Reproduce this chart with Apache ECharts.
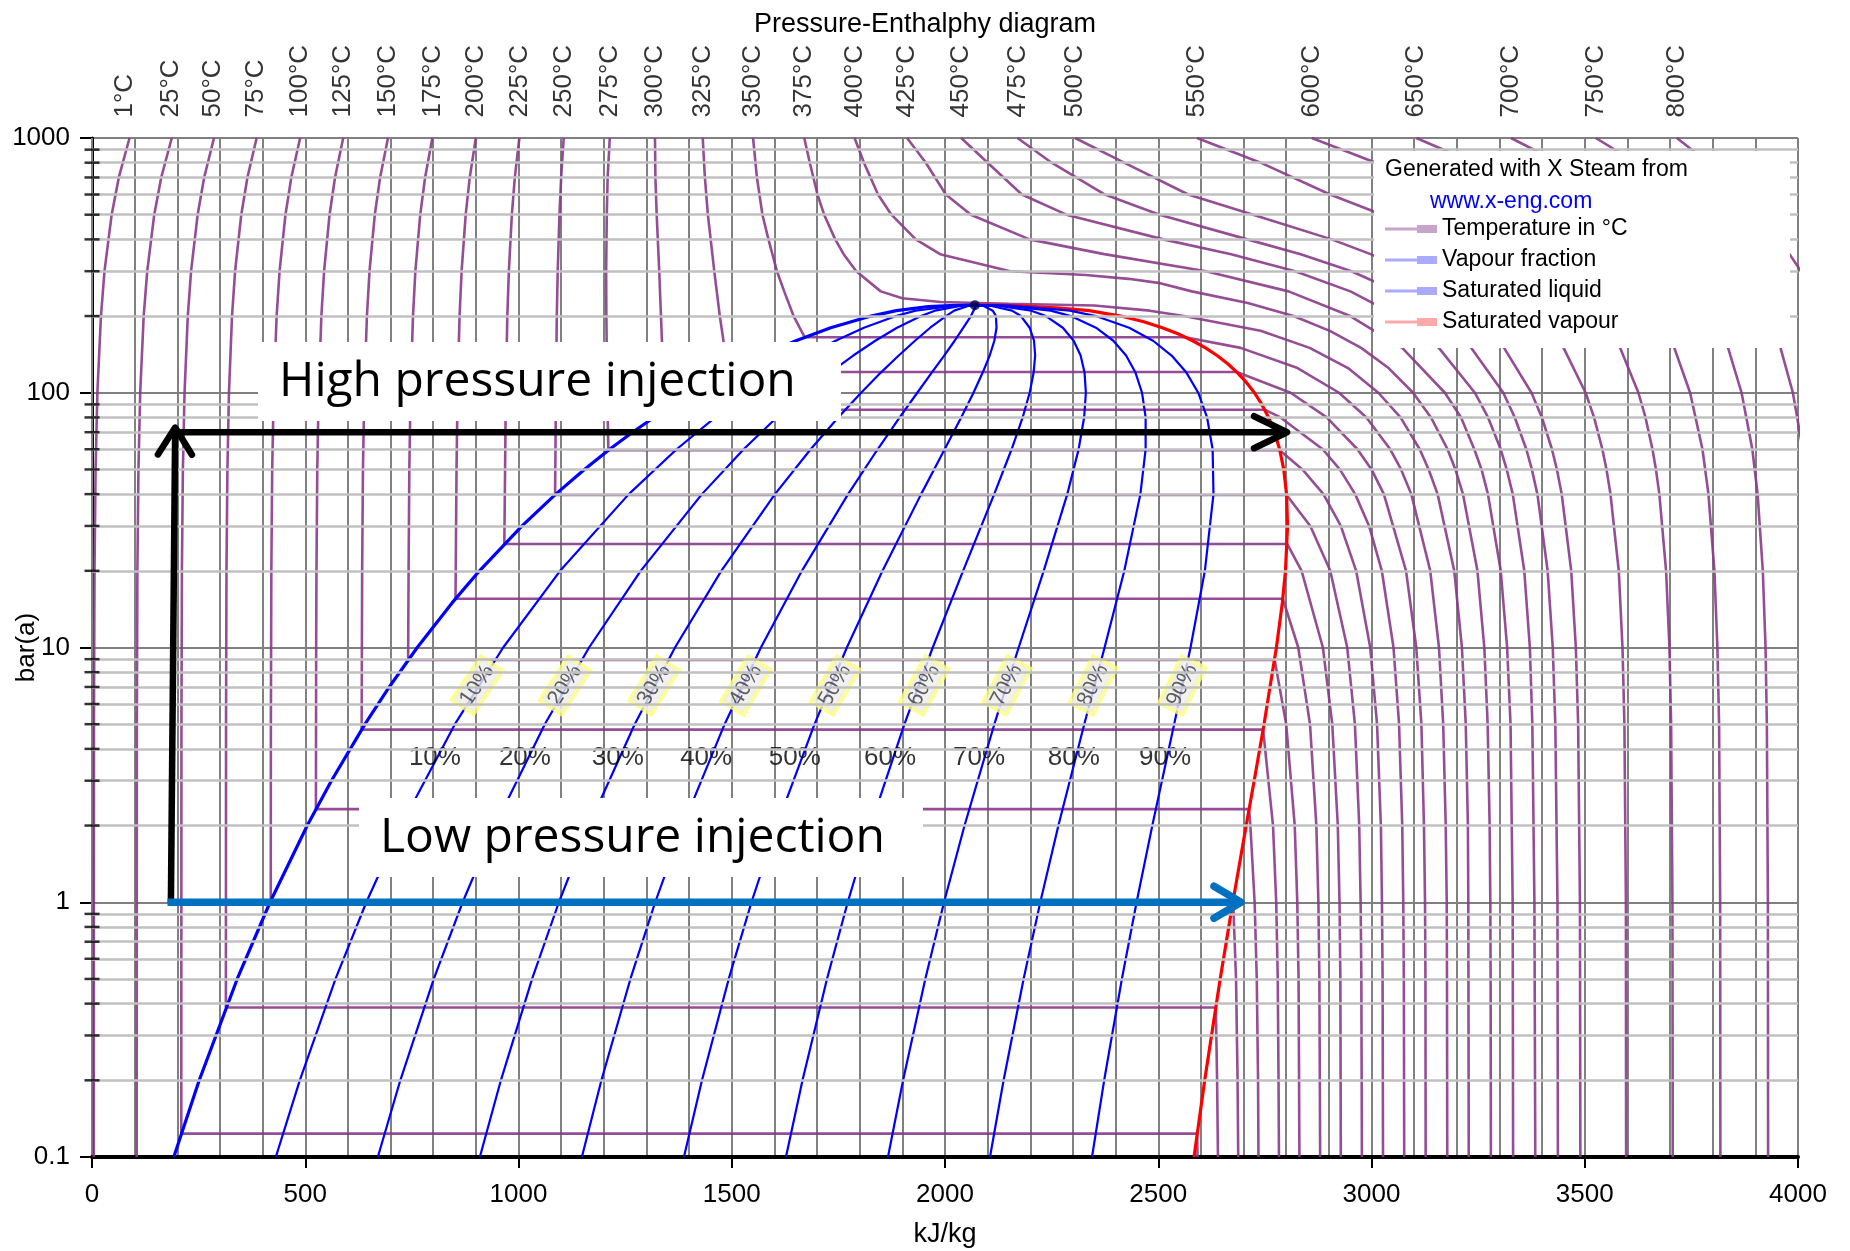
<!DOCTYPE html>
<html><head><meta charset="utf-8">
<script src="https://cdn.jsdelivr.net/npm/echarts@6/dist/echarts.min.js"></script>
<style>html,body{margin:0;padding:0;background:#fff}#c{width:1850px;height:1251px}</style>
</head><body><div id="c"></div>
<script>
// ---------- tick labels ----------
const xTickLabels = ['0','500','1000','1500','2000','2500','3000','3500','4000'];
const yTicks = [0.1, 1, 10, 100, 1000];
const yTickText = ['0.1', '1', '10', '100', '1000'];
const minorGridP = [0.2,0.3,0.4,0.5,0.6,0.7,0.8,0.9,2,3,4,5,6,7,8,9,20,30,40,50,60,70,80,90,200,300,400,500,600,700,800,900];

// ---------- temperature labels along the top ----------
const tempLabels = ['1°C','25°C','50°C','75°C','100°C','125°C','150°C','175°C','200°C','225°C','250°C','275°C','300°C','325°C','350°C','375°C','400°C','425°C','450°C','475°C','500°C','550°C','600°C','650°C','700°C','750°C','800°C'];
const tempLabelH = [78,185,283,384,488,589,694,798,900,1002,1106,1214,1320,1432,1550,1670,1788,1911,2038,2170,2305,2591,2860,3105,3327,3526,3716];

// ---------- isotherms [h kJ/kg, p bar] ----------
const T001 = [[88,1000],[62.9,700],[46.1,500],[29.3,300],[21,200],[12.6,100],[8.4,50],[5.9,20],[4.6,5],[4.2,0.1]];
const T025 = [[187,1000],[162.3,700],[145.9,500],[129.5,300],[121.2,200],[113,100],[108.9,50],[106.4,20],[105.2,5],[104.8,0.1]];
const T050 = [[286,1000],[263,700],[247.7,500],[232.3,300],[224.6,200],[217,100],[213.1,50],[210.8,20],[209.7,5],[209.3,0.1235],[2591.3,0.1235],[2592,0.1]];
const T075 = [[386,1000],[364.4,700],[350,500],[335.5,300],[328.3,200],[321.1,100],[317.5,50],[315.3,20],[314.3,5],[313.9,0.386],[2635,0.386],[2638,0.2],[2640,0.1]];
const T100 = [[488,1000],[467.3,700],[453.6,500],[439.8,300],[432.9,200],[426,100],[422.5,50],[420.5,20],[419.4,5],[419.1,1.014],[2675.6,1.014],[2682.4,0.5],[2686,0.2],[2687.5,0.1]];
const T125 = [[589,1000],[569.8,700],[557,500],[544.2,300],[537.8,200],[531.4,100],[528.2,50],[526.3,20],[525.6,10],[525,2.32],[2713,2.32],[2716,2],[2726,1],[2731,0.5],[2734,0.2],[2735,0.1]];
const T150 = [[694,1000],[675.5,700],[663.1,500],[650.7,300],[644.6,200],[638.4,100],[635.3,50],[633.4,20],[632.2,4.76],[2745.9,4.76],[2769.1,2],[2776.6,1],[2780.2,0.5],[2782,0.2],[2783,0.1]];
const T175 = [[798,1000],[781,700],[769.6,500],[758.2,300],[752.6,200],[746.9,100],[744,50],[742.3,20],[741.2,8.93],[2773,8.93],[2800,5],[2820,2],[2826,1],[2829,0.5],[2831,0.1]];
const T200 = [[900,1000],[885.7,700],[876.2,500],[866.6,300],[861.8,200],[857.1,100],[854.7,50],[852.3,15.54],[2792,15.54],[2828.3,10],[2855.8,5],[2870.7,2],[2875.5,1],[2877.8,0.5],[2879.6,0.1]];
const T225 = [[1002,1000],[991.4,700],[984.4,500],[977.4,300],[973.8,200],[970.3,100],[966.8,25.5],[2802.2,25.5],[2836.1,20],[2886,10],[2908,5],[2921,2],[2925,1],[2927,0.5],[2928,0.1]];
const T250 = [[1106,1000],[1100,700],[1096,500],[1091.9,300],[1089.8,200],[1087.8,100],[1085.8,39.7],[2800.9,39.7],[2856.5,30],[2903.3,20],[2943.1,10],[2961.1,5],[2971.2,2],[2974.5,1],[2976.2,0.5],[2977.5,0.1]];
const T275 = [[1214,1000],[1209,700],[1207,500],[1205.5,300],[1206,200],[1208,100],[1210.7,59.5],[2785,59.5],[2838,50],[2887.3,40],[2928,30],[2964,20],[2997,10],[3013,5],[3022,2],[3024.5,1],[3026,0.5],[3027,0.1]];
const T300 = [[1320,1000],[1321,700],[1324,500],[1330,300],[1334,200],[1337,150],[1342,100],[1344.8,85.8],[2749.6,85.8],[2786.5,80],[2885.6,60],[2925.7,50],[2961.7,40],[2994.3,30],[3024.2,20],[3051.6,10],[3064.6,5],[3072.1,2],[3074.5,1],[3075.8,0.5],[3076.7,0.1]];
const T325 = [[1432,1000],[1437,700],[1444,500],[1459,300],[1472,200],[1483,150],[1493,120.6],[2684,120.6],[2810.3,100],[2895,80],[2967,60],[3000,50],[3029,40],[3081,20],[3105,10],[3117,5],[3123,2],[3125.5,1],[3126.5,0.5],[3127,0.1]];
const T350 = [[1550,1000],[1559,700],[1572,500],[1586,400],[1606,300],[1623,250],[1645,200],[1671,165.2],[2563.6,165.2],[2693.1,150],[2826.6,125],[2924,100],[2988.1,80],[3043.9,60],[3069.3,50],[3093.3,40],[3137.7,20],[3158.2,10],[3168.1,5],[3174,2],[3176.4,1],[3177,0.5],[3177.6,0.1]];
const T375 = [[1670,1000],[1683,800],[1701,600],[1716.6,500],[1742.6,400],[1762.4,350],[1791.9,300],[1849.4,250],[1900,235],[1990,227],[2150,223.5],[2350,220],[2480,210],[2560,200],[2740,175],[2855,150],[2945,125],[3016,100],[3068,80],[3113,60],[3134,50],[3155,40],[3194,20],[3212,10],[3221,5],[3226,2],[3227,1],[3228,0.1]];
const T400 = [[1788,1000],[1810,800],[1843,600],[1874.4,500],[1931.4,400],[1988.6,350],[2152.8,300],[2330,290],[2430,280],[2500,270],[2578.7,250],[2710,225],[2816.9,200],[2902.4,175],[2975.7,150],[3040,125],[3097.5,100],[3139.4,80],[3178.3,60],[3196.7,50],[3214.5,40],[3248.4,20],[3264.5,10],[3272.4,5],[3277,2],[3278.6,1],[3279.3,0.5],[3279.9,0.1]];
const T425 = [[1911,1000],[1955,800],[2002,600],[2060.7,500],[2198.1,400],[2373.5,350],[2611.8,300],[2805.5,250],[2950,200],[3072,150],[3172,100],[3210,80],[3241,60],[3258,50],[3273,40],[3303,20],[3318,10],[3326,5],[3331,1],[3332,0.1]];
const T450 = [[2038,1000],[2100,800],[2180.2,600],[2284.7,500],[2511.8,400],[2671,350],[2821,300],[2950.6,250],[3061.7,200],[3157.9,150],[3242.4,100],[3273.3,80],[3302.9,60],[3317,50],[3331.2,40],[3358.2,20],[3371.3,10],[3377.1,5],[3382,1],[3384,0.1]];
const T475 = [[2170,1000],[2250,800],[2375,600],[2503,500],[2709,400],[2834,350],[2953,300],[3058,250],[3151,200],[3234,150],[3309,100],[3336,80],[3363,60],[3376,50],[3389,40],[3413,20],[3425,10],[3431,5],[3436,1],[3437,0.1]];
const T500 = [[2305,1000],[2420,800],[2570.3,600],[2722.5,500],[2906.5,400],[2997.9,350],[3084.8,300],[3165.9,250],[3241.2,200],[3310.8,150],[3375.1,100],[3399.5,80],[3423.1,60],[3434.7,50],[3446,40],[3468.3,20],[3479.1,10],[3484.5,5],[3488.7,1],[3489.7,0.1]];
const T550 = [[2591,1000],[2740,800],[2902.9,600],[3025.4,500],[3154.4,400],[3218,350],[3279.7,300],[3339.2,250],[3396.2,200],[3450.4,150],[3502,100],[3521.8,80],[3541.3,60],[3551,50],[3560.3,40],[3579.8,20],[3588.5,10],[3593,5],[3596.5,1],[3597,0.1]];
const T600 = [[2860,1000],[3010,800],[3156.8,600],[3252.6,500],[3350.4,400],[3399,350],[3446.8,300],[3493.5,250],[3539,200],[3583.1,150],[3625.8,100],[3642.4,80],[3658.8,60],[3666.9,50],[3674.9,40],[3690.7,20],[3698.6,10],[3702.5,5],[3705.6,1],[3706.3,0.1]];
const T650 = [[3105,1000],[3240,800],[3366.8,600],[3443.5,500],[3521.6,400],[3599.4,300],[3637.7,250],[3671,200],[3710,150],[3747,100],[3776,60],[3790,40],[3804,20],[3811,10],[3815,5],[3817.5,1],[3818,0.1]];
const T700 = [[3327,1000],[3440,800],[3555.6,600],[3616.7,500],[3678.9,400],[3741.6,300],[3772.5,250],[3803.8,200],[3836.1,150],[3867.7,100],[3892.9,60],[3905.3,40],[3917.5,20],[3923.9,10],[3927,5],[3929.4,1],[3929.9,0.1]];
const T750 = [[3526,1000],[3620,800],[3710,600],[3765,500],[3820,400],[3875,300],[3903,250],[3931,200],[3959,150],[3988,100],[4011,60],[4022,40],[4034,20],[4040,10],[4043,1],[4044,0.1]];
const T800 = [[3716,1000],[3790,800],[3860,600],[3908,500],[3957,400],[4007,300],[4033,250],[4058,200]];
const isotherms = [T001,T025,T050,T075,T100,T125,T150,T175,T200,T225,T250,T275,T300,T325,T350,T375,T400,T425,T450,T475,T500,T550,T600,T650,T700,T750,T800];

// ---------- saturation curves ----------
const satLiquid = [[191.8,0.1],[251.4,0.2],[340.5,0.5],[417.5,1],[504.7,2],[561.4,3],[640.1,5],[697,7],[762.6,10],[844.7,15],[908.6,20],[1008.3,30],[1087.4,40],[1154.5,50],[1213.7,60],[1267.4,70],[1317.1,80],[1363.7,90],[1408,100],[1491.3,120],[1571.6,140],[1650.5,160],[1732,180],[1826.5,200],[1886,210],[1961,218],[2011,220],[2070,220.64]];
const satVapour = [[2583.9,0.1],[2608.9,0.2],[2645.2,0.5],[2674.9,1],[2706.2,2],[2724.9,3],[2748.1,5],[2762,7],[2777.1,10],[2791,15],[2798.3,20],[2803.2,30],[2800.8,40],[2794.2,50],[2784.6,60],[2772.6,70],[2758.7,80],[2742.9,90],[2725.5,100],[2706.3,110],[2685.4,120],[2662.9,130],[2637.9,140],[2610.9,150],[2580.8,160],[2547.5,170],[2509.5,180],[2466,190],[2412.3,200],[2338,210],[2270,215],[2166,220],[2070,220.64]];
const criticalPoint = [2070, 220.64];

// ---------- vapour fraction lines ----------
const fracP = [0.1,0.2,0.5,1,2,5,10,20,40,60,80,100,120,140,160,180,200,210,220,220.64];
const x10 = [431.0,487.2,571.0,643.2,724.9,850.9,964.1,1097.6,1258.7,1370.8,1461.3,1539.8,1610.7,1678.2,1743.5,1809.8,1885.1,1931.2,2026.5,2070];
const x20 = [670.2,722.9,801.4,869.0,945.0,1061.7,1165.5,1286.5,1430.1,1527.9,1605.4,1671.5,1730.1,1784.9,1836.6,1887.5,1943.7,1976.4,2042,2070];
const x30 = [909.4,958.7,1031.9,1094.7,1165.2,1272.5,1367.0,1475.5,1601.4,1685.0,1749.6,1803.3,1849.5,1891.5,1929.6,1965.3,2002.2,2021.6,2057.5,2070];
const x40 = [1148.6,1194.4,1262.4,1320.5,1385.3,1483.3,1568.4,1664.5,1772.8,1842.1,1893.7,1935.0,1968.9,1998.1,2022.6,2043.0,2060.8,2066.8,2073,2070];
const x50 = [1387.9,1430.2,1492.9,1546.2,1605.5,1694.1,1769.9,1853.5,1944.1,1999.2,2037.9,2066.8,2088.4,2104.8,2115.7,2120.8,2119.4,2112,2088.5,2070];
const x60 = [1627.1,1665.9,1723.3,1771.9,1825.6,1904.9,1971.3,2042.4,2115.4,2156.2,2182.1,2198.5,2207.8,2211.4,2208.7,2198.5,2178.0,2157.2,2104,2070];
const x70 = [1866.3,1901.7,1953.8,1997.7,2045.8,2115.7,2172.8,2231.4,2286.8,2313.3,2326.2,2330.3,2327.2,2318.0,2301.7,2276.3,2236.6,2202.4,2119.5,2070];
const x80 = [2105.5,2137.4,2184.3,2223.4,2265.9,2326.5,2374.2,2420.4,2458.1,2470.4,2470.4,2462.0,2446.6,2424.6,2394.7,2354.0,2295.1,2247.6,2135,2070];
const x90 = [2344.7,2373.2,2414.7,2449.2,2486.1,2537.3,2575.7,2609.3,2629.5,2627.5,2614.5,2593.8,2566.0,2531.3,2487.8,2431.8,2353.7,2292.8,2150.5,2070];
const fractionLines = [x10,x20,x30,x40,x50,x60,x70,x80,x90];

// ---------- fraction labels ----------
const fracLabels = ['10%','20%','30%','40%','50%','60%','70%','80%','90%'];
const rotLabelH = [903,1109,1318,1533,1742,1951,2145,2347,2556];
const rotLabelP = 7.1;
const rotLabelAngle = [56,57,58,59,60,61,62,63,64];
const flatLabelH = [804,1015,1233,1440,1648,1871,2080,2302,2516];
const flatLabelP = 3.7;

// ---------- annotation arrows [h1, p1, h2, p2] ----------
const arrowUp   = [185, 1.0, 195, 73];
const arrowHigh = [192, 70, 2802, 70];
const arrowLow  = [177, 1.0, 2694, 1.0];

// ================= chart =================
const FONT = "'Liberation Sans', Arial, sans-serif";
const isoColor = '#8a3a8a';
const chart = echarts.init(document.getElementById('c'), null, {renderer: 'canvas'});
const series = [];

// light minor horizontal grid (2..9 x decade)
series.push({
  type: 'line', data: [], z: 0, silent: true,
  markLine: {
    silent: true, symbol: 'none', animation: false, label: {show: false},
    lineStyle: {color: '#c0c0c0', width: 2.5, type: 'solid'},
    emphasis: {disabled: true},
    data: minorGridP.map(v => ({yAxis: v}))
  }
});

isotherms.forEach(d => series.push({
  name: 'Temperature in °C', type: 'line', data: d, showSymbol: false, symbol: 'none',
  lineStyle: {color: isoColor, width: 2.6, opacity: 0.9}, itemStyle: {color: isoColor}, z: 2, silent: true
}));

series.push({
  name: 'Saturated vapour', type: 'line', data: satVapour, showSymbol: false, symbol: 'none',
  lineStyle: {color: '#ff0000', width: 3.2}, itemStyle: {color: '#ff0000'}, z: 3, silent: true
});

fractionLines.forEach(hs => series.push({
  name: 'Vapour fraction', type: 'line', data: fracP.map((p, i) => [hs[i], p]),
  showSymbol: false, symbol: 'none',
  lineStyle: {color: '#0000ff', width: 2.2}, itemStyle: {color: '#0000ff'}, z: 3, silent: true
}));

series.push({
  name: 'Saturated liquid', type: 'line', data: satLiquid, showSymbol: false, symbol: 'none',
  lineStyle: {color: '#0000ff', width: 3.2}, itemStyle: {color: '#0000ff'}, z: 3, silent: true
});

series.push({
  type: 'scatter', data: [criticalPoint], symbol: 'circle', symbolSize: 10,
  itemStyle: {color: '#000050'}, z: 4, silent: true
});

// rotated fraction labels
series.push({
  type: 'scatter', z: 4, silent: true, symbolSize: 1, itemStyle: {color: 'rgba(0,0,0,0)'},
  data: rotLabelH.map((h, i) => ({
    value: [h, rotLabelP],
    label: {rotate: rotLabelAngle[i], formatter: fracLabels[i]}
  })),
  label: {
    show: true, position: 'inside', align: 'center', verticalAlign: 'middle',
    fontSize: 22, fontFamily: FONT, color: '#3a3a3a',
    backgroundColor: '#ededed', borderColor: '#ffff70', borderWidth: 3, padding: [1, 3]
  }
});

// flat fraction labels
series.push({
  type: 'scatter', z: 4, silent: true, symbolSize: 1, itemStyle: {color: 'rgba(0,0,0,0)'},
  data: flatLabelH.map((h, i) => ({value: [h, flatLabelP], label: {formatter: fracLabels[i]}})),
  label: {
    show: true, position: 'inside', align: 'center', verticalAlign: 'middle',
    fontSize: 26, fontFamily: FONT, color: '#000'
  }
});

// temperature labels above the plot
series.push({
  type: 'scatter', z: 4, silent: true, clip: false, symbolSize: 1, itemStyle: {color: 'rgba(0,0,0,0)'},
  data: tempLabelH.map((h, i) => ({value: [h, 1000], label: {formatter: tempLabels[i]}})),
  label: {
    show: true, position: 'top', distance: 20, rotate: 90, align: 'left', verticalAlign: 'middle',
    fontSize: 26, fontFamily: FONT, color: '#000'
  }
});

// minor ticks crossing the y axis
series.push({
  type: 'scatter', z: 6, silent: true, clip: false, symbol: 'rect', symbolSize: [15, 2.5],
  itemStyle: {color: '#000'},
  data: minorGridP.map(v => [0, v])
});

// arrows
const arrowStyle = [
  {color: '#000000', width: 6.5, head: 27, half: 17},
  {color: '#000000', width: 6.5, head: 33, half: 16},
  {color: '#0070c0', width: 7.5, head: 27, half: 16}
];
series.push({
  type: 'custom', z: 5, silent: true, clip: false,
  data: [arrowUp, arrowHigh, arrowLow],
  renderItem: function (params, api) {
    const a = api.coord([api.value(0), api.value(1)]);
    const b = api.coord([api.value(2), api.value(3)]);
    const st = arrowStyle[params.dataIndex];
    const dx = b[0] - a[0], dy = b[1] - a[1];
    const L = Math.sqrt(dx * dx + dy * dy);
    const ux = dx / L, uy = dy / L, nx = -uy, ny = ux;
    const p1 = [b[0] - ux * st.head + nx * st.half, b[1] - uy * st.head + ny * st.half];
    const p2 = [b[0] - ux * st.head - nx * st.half, b[1] - uy * st.head - ny * st.half];
    return {
      type: 'group', children: [
        {type: 'line', shape: {x1: a[0], y1: a[1], x2: b[0] - ux * 3, y2: b[1] - uy * 3},
          style: {stroke: st.color, lineWidth: st.width, lineCap: 'butt'}},
        {type: 'polyline', shape: {points: [p1, b, p2]},
          style: {stroke: st.color, lineWidth: st.width, fill: 'none', lineCap: 'round', lineJoin: 'round'}}
      ]
    };
  }
});

const ICON = 'path://M0,2.5H32V5.5H0Z M32,0H52V8H32Z';

const option = {
  animation: false,
  backgroundColor: '#ffffff',
  title: {
    text: 'Pressure-Enthalphy diagram', left: 'center', top: 6,
    textStyle: {fontSize: 27, fontWeight: 'normal', fontFamily: FONT, color: '#000'}
  },
  grid: {left: 92, right: 52, top: 138, bottom: 94, containLabel: false, outerBoundsMode: 'none'},
  legend: {
    orient: 'vertical', left: 1385, top: 217, z: 20, selectedMode: false,
    itemWidth: 52, itemHeight: 8, itemGap: 7, padding: 0,
    textStyle: {fontSize: 23, fontFamily: FONT, color: '#000', lineHeight: 24},
    data: [
      {name: 'Temperature in °C', icon: ICON, itemStyle: {color: '#c9a3c9', borderWidth: 0}},
      {name: 'Vapour fraction', icon: ICON, itemStyle: {color: '#aaaaff', borderWidth: 0}},
      {name: 'Saturated liquid', icon: ICON, itemStyle: {color: '#aaaaff', borderWidth: 0}},
      {name: 'Saturated vapour', icon: ICON, itemStyle: {color: '#ffaaaa', borderWidth: 0}}
    ]
  },
  xAxis: {
    type: 'value', min: 0, max: 4000, interval: 500, z: 1,
    name: 'kJ/kg', nameLocation: 'middle', nameGap: 64, nameMoveOverlap: false,
    nameTextStyle: {fontSize: 27, fontFamily: FONT, color: '#000'},
    axisLine: {onZero: false, lineStyle: {color: '#000', width: 4}},
    axisTick: {show: true, length: 11, lineStyle: {color: '#000', width: 2}},
    axisLabel: {fontSize: 26, fontFamily: FONT, color: '#000', margin: 25,
      formatter: (v) => xTickLabels[Math.round(v / 500)] || ''},
    splitLine: {show: true, lineStyle: {color: '#808080', width: 2}},
    minorTick: {show: false, splitNumber: 5},
    minorSplitLine: {show: true, lineStyle: {color: '#808080', width: 2}}
  },
  yAxis: {
    type: 'log', logBase: 10, min: 0.1, max: 1000, z: 0,
    name: 'bar(a)', nameLocation: 'middle', nameGap: 52, nameRotate: 90, nameMoveOverlap: false,
    nameTextStyle: {fontSize: 26, fontFamily: FONT, color: '#000'},
    axisLine: {show: true, onZero: false, lineStyle: {color: '#000', width: 3}},
    axisTick: {show: true, length: 12, lineStyle: {color: '#000', width: 2}},
    axisLabel: {fontSize: 26, fontFamily: FONT, color: '#000', margin: 22,
      formatter: (v) => {
        const i = yTicks.findIndex(t => Math.abs(t - v) / t < 1e-6);
        return i >= 0 ? yTickText[i] : '';
      }},
    splitLine: {show: true, lineStyle: {color: '#808080', width: 2}}
  },
  graphic: {
    elements: [
      {type: 'rect', z: 10, silent: true, shape: {x: 1374, y: 151, width: 416, height: 197}, style: {fill: '#ffffff'}},
      {type: 'text', z: 11, silent: true, x: 1385, y: 170,
        style: {text: 'Generated with X Steam from', fontSize: 23, fontFamily: FONT, fill: '#000', verticalAlign: 'middle'}},
      {type: 'text', z: 11, silent: true, x: 1430, y: 202,
        style: {text: 'www.x-eng.com', fontSize: 23, fontFamily: FONT, fill: '#0000ff', verticalAlign: 'middle'}},
      {type: 'rect', z: 10, silent: true, shape: {x: 258, y: 342, width: 583, height: 79}, style: {fill: '#ffffff'}},
      {type: 'text', z: 11, silent: true, x: 279, y: 382,
        style: {text: 'High pressure injection', fontSize: 48, fontFamily: "'Open Sans', Lato, sans-serif", fill: '#000', verticalAlign: 'middle'}},
      {type: 'rect', z: 10, silent: true, shape: {x: 359, y: 798, width: 564, height: 79}, style: {fill: '#ffffff'}},
      {type: 'text', z: 11, silent: true, x: 380, y: 838,
        style: {text: 'Low pressure injection', fontSize: 48, fontFamily: "'Open Sans', Lato, sans-serif", fill: '#000', verticalAlign: 'middle'}}
    ]
  },
  series: series
};
chart.setOption(option);
</script></body></html>
